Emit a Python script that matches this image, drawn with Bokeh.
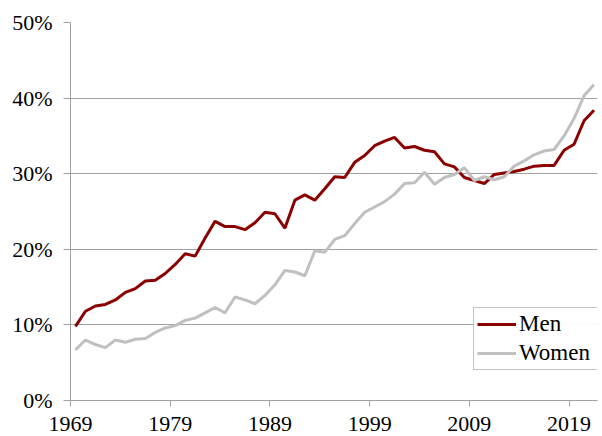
from bokeh.plotting import figure
from bokeh.models import ColumnDataSource, Range1d, FixedTicker, NumeralTickFormatter, Legend, LegendItem
from bokeh.embed import file_html
from bokeh.resources import INLINE

years = list(range(1969, 2022))
men = [9.8, 11.8, 12.5, 12.7, 13.3, 14.3, 14.8, 15.8, 15.9, 16.8,
       18.0, 19.4, 19.1, 21.5, 23.7, 23.0, 23.0, 22.6, 23.5, 24.9,
       24.7, 22.8, 26.5, 27.2, 26.5, 28.0, 29.6, 29.5, 31.5, 32.4,
       33.7, 34.3, 34.8, 33.4, 33.6, 33.1, 32.9, 31.3, 30.9, 29.5,
       29.1, 28.7, 29.9, 30.1, 30.3, 30.6, 31.0, 31.1, 31.1, 33.1,
       33.9, 37.0, 38.4]
women = [6.7, 8.0, 7.4, 7.0, 8.0, 7.7, 8.1, 8.2, 9.0, 9.6,
         9.9, 10.6, 10.9, 11.6, 12.3, 11.6, 13.7, 13.3, 12.8, 13.9,
         15.3, 17.2, 17.0, 16.5, 19.8, 19.6, 21.3, 21.8, 23.4, 24.9,
         25.6, 26.3, 27.3, 28.7, 28.8, 30.2, 28.6, 29.5, 29.9, 30.8,
         29.1, 29.6, 29.2, 29.6, 31.0, 31.7, 32.5, 33.0, 33.2, 35.0,
         37.3, 40.3, 41.8]
x_ticks = [1969, 1979, 1989, 1999, 2009, 2019]
y_ticks = [0, 0.1, 0.2, 0.3, 0.4, 0.5]

FONT = "Liberation Serif"
GRID = "#a0a0a0"

source = ColumnDataSource({'x': [y + 0.5 for y in years],
                           'men': [v / 100 for v in men],
                           'women': [v / 100 for v in women]})

p = figure(width=602, height=436, output_backend="svg", toolbar_location=None,
           x_range=Range1d(1969, 2021.85), y_range=Range1d(0, 0.5),
           min_border_left=70, min_border_right=5, min_border_top=22, min_border_bottom=36)
p.outline_line_color = None

r_men = p.line('x', 'men', source=source, line_color="#8b0000", line_width=3)
r_women = p.line('x', 'women', source=source, line_color="#c0c0c0", line_width=3)

p.xgrid.grid_line_color = None
p.ygrid.grid_line_color = GRID
p.ygrid.ticker = FixedTicker(ticks=y_ticks)

p.xaxis.ticker = FixedTicker(ticks=x_ticks)
p.yaxis.ticker = FixedTicker(ticks=y_ticks)
p.yaxis.formatter = NumeralTickFormatter(format="0%")
for ax in (p.xaxis, p.yaxis):
    ax.axis_line_color = GRID
    ax.major_tick_line_color = GRID
    ax.minor_tick_line_color = None
    ax.major_tick_in = 0
    ax.major_tick_out = 7
    ax.major_label_text_font = FONT
    ax.major_label_text_font_size = "22px"
    ax.major_label_text_color = "black"
p.yaxis.major_label_standoff = 11
p.xaxis.major_tick_out = 6
p.xaxis.major_label_standoff = 10
p.xaxis.major_label_text_line_height = 0.9

legend = Legend(items=[LegendItem(label="Men", renderers=[r_men]),
                       LegendItem(label="Women", renderers=[r_women])],
                location=(403, 30))
legend.label_text_font = FONT
legend.label_text_font_size = "23px"
legend.label_text_color = "black"
legend.border_line_color = "#888888"
legend.glyph_width = 39
legend.glyph_height = 16
legend.label_height = 16
legend.label_width = 80
legend.label_standoff = 3
legend.spacing = 3
legend.padding = 3
legend.margin = 0
p.add_layout(legend)

open("out.html", "w").write(file_html(p, INLINE))
